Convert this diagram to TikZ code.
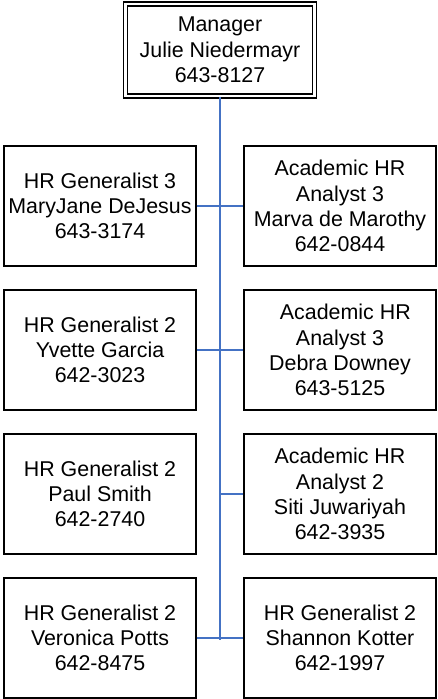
\documentclass[tikz,border=0pt]{standalone}
\usepackage{fontspec}
\setmainfont{Liberation Sans}
\usepackage{tikz}

\definecolor{linkblue}{HTML}{4472C4}

\tikzset{
  x=1pt, y=-1pt,
  staff/.style={draw, line width=1.4pt, minimum width=192pt, minimum height=120pt,
    inner sep=0pt, align=center, font=\fontsize{21.4}{25.3}\selectfont},
  boss/.style={draw, double, double distance=2.6pt, line width=1.4pt,
    minimum width=189pt, minimum height=92pt, inner sep=0pt, align=center,
    font=\fontsize{21.4}{25.3}\selectfont},
  link/.style={draw=linkblue, line width=2pt}
}

\begin{document}
\begin{tikzpicture}

\useasboundingbox (0, 0) rectangle (437, 699);

\node[boss] (manager) at (220, 50) {Manager\\Julie Niedermayr\\643-8127};

%Left column
\node[staff] (gen1) at (100, 206) {HR Generalist 3\\MaryJane DeJesus\\643-3174};
\node[staff] (gen2) at (100, 350) {HR Generalist 2\\Yvette Garcia\\642-3023};
\node[staff] (gen3) at (100, 494) {HR Generalist 2\\Paul Smith\\642-2740};
\node[staff] (gen4) at (100, 638) {HR Generalist 2\\Veronica Potts\\642-8475};

%Right column
\node[staff] (ana1) at (340, 206) {Academic HR\\Analyst 3\\Marva de Marothy\\642-0844};
\node[staff] (ana2) at (340, 350) {\hspace{0.5em}Academic HR\\Analyst 3\\Debra Downey\\643-5125};
\node[staff] (ana3) at (340, 494) {Academic HR\\Analyst 2\\Siti Juwariyah\\642-3935};
\node[staff] (ana4) at (340, 638) {HR Generalist 2\\Shannon Kotter\\642-1997};

%Lines
\coordinate (trunkend) at (220, 640);
\draw[link] (manager.south) -- (trunkend);
\draw[link] (gen1.east) -- (ana1.west);
\draw[link] (gen2.east) -- (ana2.west);
\draw[link] (ana3.west) -- (ana3.west -| manager.south);
\draw[link] (gen4.east) -- (ana4.west);

\end{tikzpicture}
\end{document}
